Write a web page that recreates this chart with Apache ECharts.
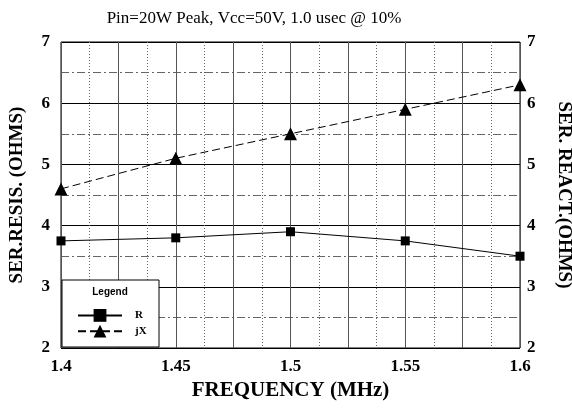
<!DOCTYPE html>
<html>
<head>
<meta charset="utf-8">
<script src="https://cdn.jsdelivr.net/npm/echarts@6/dist/echarts.min.js"></script>
<style>
    html, body { margin: 0; padding: 0; background: #fff; }
    #main { width: 572px; height: 410px; }
</style>
</head>
<body>
<div id="main"></div>
<script>
    // 频率 (MHz)
    var freq = [1.4, 1.45, 1.5, 1.55, 1.6];
    // 串联电阻 R
    var resis = [3.75, 3.8, 3.9, 3.75, 3.5];
    // 串联电抗 jX
    var react = [4.6, 5.1, 5.5, 5.9, 6.3];
    var yTicks = [2, 3, 4, 5, 6, 7];
    var xTicks = [1.4, 1.45, 1.5, 1.55, 1.6];

    var serif = '"Liberation Serif", "Times New Roman", serif';

    function pairs(xs, ys) {
        var out = [];
        for (var i = 0; i < xs.length; i++) {
            out.push([xs[i], ys[i]]);
        }
        return out;
    }

    var myChart = echarts.init(document.getElementById('main'));
    myChart.setOption({
        animation: false,
        backgroundColor: '#fff',
        title: {
            text: 'Pin=20W Peak, Vcc=50V, 1.0 usec @ 10%',
            left: 249,
            textAlign: 'center',
            top: 5,
            textStyle: {
                fontFamily: serif,
                fontWeight: 'normal',
                fontSize: 17,
                color: '#000'
            }
        },
        grid: {
            left: 61,
            right: 52,
            top: 42,
            bottom: 62,
            outerBoundsMode: 'none',
            containLabel: false,
            show: true,
            borderColor: '#000',
            borderWidth: 1
        },
        legend: {
            orient: 'vertical',
            left: 72,
            top: 304,
            itemWidth: 44,
            itemHeight: 16,
            itemGap: 3,
            z: 20,
            data: ['R', 'jX'],
            textStyle: {
                fontFamily: serif,
                fontWeight: 'bold',
                fontSize: 11,
                color: '#000',
                padding: [0, 0, 0, 8]
            }
        },
        graphic: [
            {
                type: 'rect',
                z: 15,
                shape: {x: 62, y: 280, width: 97, height: 67},
                style: {fill: '#fff', stroke: '#000', lineWidth: 1}
            },
            {
                type: 'text',
                z: 16,
                x: 110,
                y: 287,
                style: {
                    text: 'Legend',
                    fill: '#000',
                    font: 'bold 10px "Liberation Sans", Arial, sans-serif',
                    textAlign: 'center'
                }
            }
        ],
        xAxis: [{
            type: 'value',
            min: 1.4,
            max: 1.6,
            interval: 0.025,
            name: 'FREQUENCY (MHz)',
            nameLocation: 'middle',
            nameGap: 25,
            nameTextStyle: {
                fontFamily: serif,
                fontWeight: 'bold',
                fontSize: 21,
                color: '#000'
            },
            axisLine: {show: false},
            axisTick: {show: false},
            axisLabel: {
                margin: 10,
                fontFamily: serif,
                fontWeight: 'bold',
                fontSize: 17,
                color: '#000',
                formatter: function (val) {
                    var k = Math.round(val * 40);
                    if (k % 2 !== 0) {
                        return '';
                    }
                    var v = +(k / 40).toFixed(2);
                    return xTicks.indexOf(v) >= 0 ? String(v) : '';
                }
            },
            splitLine: {
                show: true,
                lineStyle: {color: '#555', width: 1, type: 'solid'}
            },
            minorTick: {show: false, splitNumber: 2},
            minorSplitLine: {
                show: true,
                lineStyle: {color: '#666', width: 1, type: [1, 2]}
            }
        }],
        yAxis: [
            {
                type: 'value',
                min: yTicks[0],
                max: yTicks[yTicks.length - 1],
                interval: 1,
                position: 'left',
                name: 'SER.RESIS. (OHMS)',
                nameLocation: 'middle',
                nameGap: 34,
                nameTextStyle: {
                    fontFamily: serif,
                    fontWeight: 'bold',
                    fontSize: 19,
                    color: '#000'
                },
                axisLine: {show: false},
                axisTick: {show: false},
                axisLabel: {
                    margin: 11,
                    fontFamily: serif,
                    fontWeight: 'bold',
                    fontSize: 17,
                    color: '#000'
                },
                splitLine: {
                    show: true,
                    lineStyle: {color: '#000', width: 1}
                },
                minorTick: {show: false, splitNumber: 2},
                minorSplitLine: {
                    show: true,
                    lineStyle: {color: '#666', width: 1, type: [8, 3, 2, 3]}
                }
            },
            {
                type: 'value',
                min: yTicks[0],
                max: yTicks[yTicks.length - 1],
                interval: 1,
                position: 'right',
                name: 'SER. REACT.(OHMS)',
                nameLocation: 'middle',
                nameGap: 34,
                nameRotate: -90,
                nameTextStyle: {
                    fontFamily: serif,
                    fontWeight: 'bold',
                    fontSize: 19,
                    color: '#000'
                },
                axisLine: {show: false},
                axisTick: {show: false},
                axisLabel: {
                    margin: 7,
                    fontFamily: serif,
                    fontWeight: 'bold',
                    fontSize: 17,
                    color: '#000'
                },
                splitLine: {show: false}
            }
        ],
        series: [
            {
                name: 'R',
                type: 'line',
                yAxisIndex: 0,
                data: pairs(freq, resis),
                symbol: 'rect',
                symbolSize: 9,
                itemStyle: {color: '#000'},
                lineStyle: {color: '#000', width: 1, type: 'solid'},
                z: 5
            },
            {
                name: 'jX',
                type: 'line',
                yAxisIndex: 1,
                data: pairs(freq, react),
                symbol: 'triangle',
                symbolSize: 13,
                itemStyle: {color: '#000'},
                lineStyle: {color: '#000', width: 1, type: [8, 4]},
                z: 5
            }
        ]
    });
</script>
</body>
</html>
